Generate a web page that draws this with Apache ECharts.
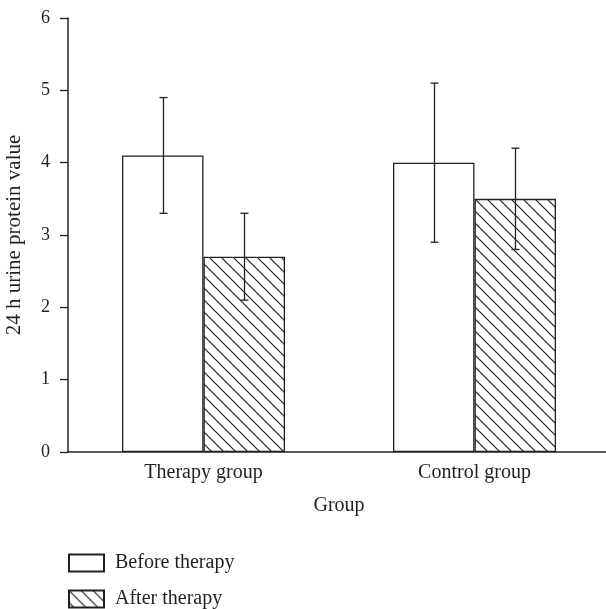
<!DOCTYPE html>
<html>
<head>
<meta charset="utf-8">
<script src="https://cdn.jsdelivr.net/npm/echarts@6/dist/echarts.min.js"></script>
<style>
  html, body { margin: 0; padding: 0; background: #fff; }
  #chart { width: 606px; height: 609px; }
</style>
</head>
<body>
<div id="chart"></div>
<script>
// data
var categories = ['Therapy group', 'Control group'];
var seriesNames = ['Before therapy', 'After therapy'];
var beforeValues = [4.1, 4.0];
var afterValues = [2.7, 3.5];
var beforeErrLow = [3.3, 2.9];
var beforeErrHigh = [4.9, 5.1];
var afterErrLow = [2.1, 2.8];
var afterErrHigh = [3.3, 4.2];
var yTicks = [0, 1, 2, 3, 4, 5, 6];

var ink = '#231f20';
var font = '"Liberation Serif", "DejaVu Serif", serif';
var barWidth = 81.5;

// hatch fill: "\" lines
function makeHatch() {
	var s = 12;
	var c = document.createElement('canvas');
	c.width = s; c.height = s;
	var g = c.getContext('2d');
	g.fillStyle = '#fff';
	g.fillRect(0, 0, s, s);
	g.strokeStyle = ink;
	g.lineWidth = 1.2;
	g.beginPath();
	g.moveTo(-2, -2); g.lineTo(s + 2, s + 2);
	g.moveTo(-2, s - 2); g.lineTo(2, s + 2);
	g.moveTo(s - 2, -2); g.lineTo(s + 2, 2);
	g.stroke();
	return c;
}
var hatch = { image: makeHatch(), repeat: 'repeat' };

// error bar items: [category index, low, high, side]
var errData = [];
for (var i = 0; i < categories.length; i++) {
	errData.push([i, beforeErrLow[i], beforeErrHigh[i], -1]);
	errData.push([i, afterErrLow[i], afterErrHigh[i], 1]);
}

function renderErr(params, api) {
	var cat = api.value(0);
	var side = api.value(3);
	var lo = api.coord([cat, api.value(1)]);
	var hi = api.coord([cat, api.value(2)]);
	var x = Math.round(lo[0] + side * barWidth / 2) + 0.5;
	var cap = 4;
	var st = { stroke: ink, lineWidth: 1.3, fill: null };
	return {
		type: 'group',
		children: [
			{ type: 'line', shape: { x1: x, y1: lo[1], x2: x, y2: hi[1] }, style: st },
			{ type: 'line', shape: { x1: x - cap, y1: lo[1], x2: x + cap, y2: lo[1] }, style: st },
			{ type: 'line', shape: { x1: x - cap, y1: hi[1], x2: x + cap, y2: hi[1] }, style: st }
		]
	};
}

function legendAt(name, top) {
	return {
		data: [name],
		orient: 'vertical',
		left: 68,
		top: top,
		icon: 'rect',
		itemWidth: 35,
		itemHeight: 17,
		padding: 0,
		textStyle: { fontFamily: font, fontSize: 20, color: ink, padding: [0, 0, 0, 6] }
	};
}

var chart = echarts.init(document.getElementById('chart'), null, { renderer: 'canvas' });
chart.setOption({
	animation: false,
	backgroundColor: '#fff',
	textStyle: { fontFamily: font, color: ink },
	grid: { left: 68, top: 18, right: -4, bottom: 157, containLabel: false, outerBoundsMode: 'none' },
	legend: [legendAt(seriesNames[0], 553), legendAt(seriesNames[1], 589)],
	xAxis: {
		type: 'category',
		data: categories,
		name: 'Group',
		nameLocation: 'middle',
		nameGap: 44,
		nameTextStyle: { fontFamily: font, fontSize: 20, color: ink },
		axisLine: { lineStyle: { color: ink, width: 1.5 } },
		axisTick: { alignWithLabel: true, length: 8, lineStyle: { color: ink, width: 1.3 } },
		axisLabel: { fontFamily: font, fontSize: 20, color: ink, margin: 11 },
		splitLine: { show: false }
	},
	yAxis: {
		type: 'value',
		min: yTicks[0],
		max: yTicks[yTicks.length - 1],
		interval: 1,
		name: '24 h urine protein value',
		nameLocation: 'middle',
		nameGap: 43,
		nameTextStyle: { fontFamily: font, fontSize: 21, color: ink },
		axisLine: { show: true, lineStyle: { color: ink, width: 1.5 } },
		axisTick: { show: true, length: 8, lineStyle: { color: ink, width: 1.3 } },
		axisLabel: { fontFamily: font, fontSize: 18, color: ink, margin: 18 },
		splitLine: { show: false }
	},
	series: [
		{
			name: seriesNames[0],
			type: 'bar',
			data: beforeValues,
			barWidth: barWidth,
			barGap: '0%',
			itemStyle: { color: '#fff', borderColor: ink, borderWidth: 1.3 }
		},
		{
			name: seriesNames[1],
			type: 'bar',
			data: afterValues,
			barWidth: barWidth,
			barGap: '0%',
			itemStyle: { color: hatch, borderColor: ink, borderWidth: 1.3 }
		},
		{
			name: 'err',
			type: 'custom',
			renderItem: renderErr,
			data: errData,
			encode: { x: 0, y: [1, 2] },
			z: 10
		}
	]
});
</script>
</body>
</html>
